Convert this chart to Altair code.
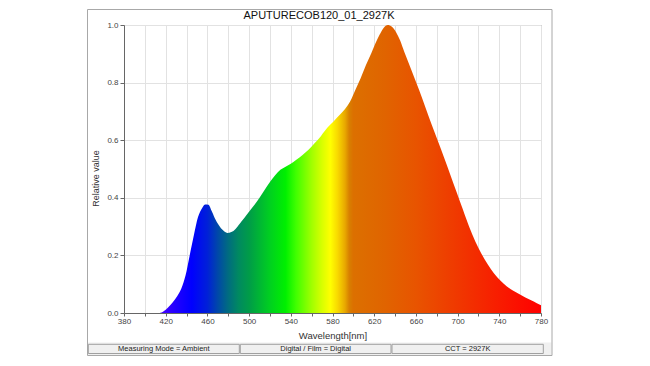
import altair as alt
import pandas as pd

# ---- data ----
wavelength = [380, 400, 414, 418, 422, 427, 431, 435, 439, 443, 447, 451, 455, 458, 461, 464,
              467, 471, 475, 479, 483, 487, 491, 495, 499, 505, 510, 515, 520, 525, 530, 535,
              540, 545, 551, 557, 563, 569, 575, 581, 587, 592, 597, 602, 607, 612, 617, 621,
              625, 629, 633, 637, 641, 645, 649, 655, 663, 669, 675, 681, 687, 693, 699, 705,
              711, 717, 723, 729, 735, 741, 747, 753, 759, 765, 771, 776, 780]
relative = [0, 0, 0, 0.006, 0.018, 0.038, 0.058, 0.085, 0.13, 0.2, 0.27, 0.333, 0.365, 0.377, 0.376, 0.355,
            0.33, 0.305, 0.287, 0.278, 0.281, 0.292, 0.31, 0.328, 0.347, 0.375, 0.4, 0.428, 0.455, 0.478, 0.497, 0.508,
            0.518, 0.531, 0.548, 0.567, 0.59, 0.615, 0.643, 0.665, 0.688, 0.708, 0.735, 0.775, 0.815, 0.86, 0.9, 0.935,
            0.965, 0.99, 1.0, 0.994, 0.975, 0.945, 0.905, 0.85, 0.775, 0.715, 0.655, 0.598, 0.54, 0.48, 0.42, 0.36,
            0.3, 0.248, 0.205, 0.168, 0.137, 0.113, 0.093, 0.078, 0.066, 0.054, 0.043, 0.034, 0.027]

stop_nm = [380, 414, 430, 445, 460, 470, 480, 490, 500, 520, 535, 545, 560, 570, 578, 585,
           592, 596, 600, 630, 660, 700, 740, 780]
stop_colors = ["#5000ff", "#4a00ff", "#2000ff", "#0000ff", "#0020d8", "#0048a8", "#006c80", "#008a60",
               "#009c48", "#00d020", "#00f000", "#40ff00", "#a0ff00", "#d8ff00", "#ffff00", "#f8d800",
               "#e8a800", "#d88000", "#dc7000", "#e06400", "#e85400", "#f03800", "#f81c00", "#ff0000"]

title_text = "APUTURECOB120_01_2927K"
status_texts = ["Measuring Mode = Ambient", "Digital / Film = Digital", "CCT = 2927K"]
x_ticks = list(range(380, 781, 20))
y_ticks = [0.0, 0.2, 0.4, 0.6, 0.8, 1.0]

FONT = "Liberation Sans"
W, H = 417, 288
LEFT, TOP = 124, 25

df = pd.DataFrame({"wl": wavelength, "v": relative})
one = pd.DataFrame({"k": [0]})

gradient = alt.Gradient(
    gradient="linear",
    stops=[alt.GradientStop(color=c, offset=(n - 380) / 400) for n, c in zip(stop_nm, stop_colors)],
    x1=0, x2=1, y1=0, y2=0,
)

xscale = alt.Scale(domain=[380, 780], nice=False, zero=False)
yscale = alt.Scale(domain=[0, 1], nice=False)

area = alt.Chart(df).mark_area(interpolate="monotone", color=gradient).encode(
    x=alt.X("wl:Q", scale=xscale,
            axis=alt.Axis(values=x_ticks, title="Wavelength[nm]",
                          labelExpr="datum.value % 40 == 0 ? '' : datum.label",
                          labelOverlap=False, labelBound=False, labelFlush=False,
                          format="d", tickSize=3, labelPadding=1, labelFontSize=8,
                          labelColor="#444", labelFont=FONT, titleFont=FONT, titleFontSize=9.5,
                          titleFontWeight="normal", titleColor="#333", titleY=22,
                          titleBaseline="middle", grid=True, gridColor="#e2e2e2",
                          domainColor="#666", tickColor="#666")),
    y=alt.Y("v:Q", scale=yscale,
            axis=alt.Axis(values=y_ticks, title="Relative value", format=".1f",
                          labelOverlap=False, labelFlush=False,
                          tickSize=4, labelPadding=2, labelFontSize=8, labelColor="#444",
                          labelFont=FONT, titleFont=FONT, titleFontSize=9, titleFontWeight="normal",
                          titleColor="#333", titleX=-29, titleY=153, titleAngle=270,
                          titleBaseline="middle", titleAlign="center",
                          grid=True, gridColor="#e2e2e2", domainColor="#666", tickColor="#666")),
)

frame = alt.Chart(one).mark_rect(filled=False, stroke="#a8a8a8", strokeWidth=1).encode(
    x=alt.value(-36.5), x2=alt.value(428), y=alt.value(-15.5), y2=alt.value(330.5))

strip = alt.Chart(one).mark_rect(fill="#f0f0f0").encode(
    x=alt.value(-36), x2=alt.value(427.5), y=alt.value(317.5), y2=alt.value(330))

title = alt.Chart(one).mark_text(text=title_text, font=FONT, fontSize=11, color="#111",
                                 baseline="middle", align="center").encode(
    x=alt.value(195), y=alt.value(-9))

layers = [strip, frame, area, title]
box_edges = [(-35.7, 115.3), (116.3, 267), (268, 419.3)]
for (a, b), t in zip(box_edges, status_texts):
    layers.append(alt.Chart(one).mark_rect(fill="#f0f0f0", stroke="#a0a0a0", strokeWidth=1).encode(
        x=alt.value(a), x2=alt.value(b), y=alt.value(319.3), y2=alt.value(328.5)))
    layers.append(alt.Chart(one).mark_text(text=t, font=FONT, fontSize=7.5, color="#222",
                                           baseline="middle", align="center").encode(
        x=alt.value((a + b) / 2), y=alt.value(324)))

chart = alt.layer(*layers).properties(
    width=W, height=H,
    autosize=alt.AutoSizeParams(type="none"),
    padding={"left": LEFT, "top": TOP, "right": 650 - LEFT - W, "bottom": 366 - TOP - H},
).configure(background="white").configure_view(stroke="#888", strokeWidth=1)

chart.save("out.html", embed_options={"renderer": "svg", "actions": False})
